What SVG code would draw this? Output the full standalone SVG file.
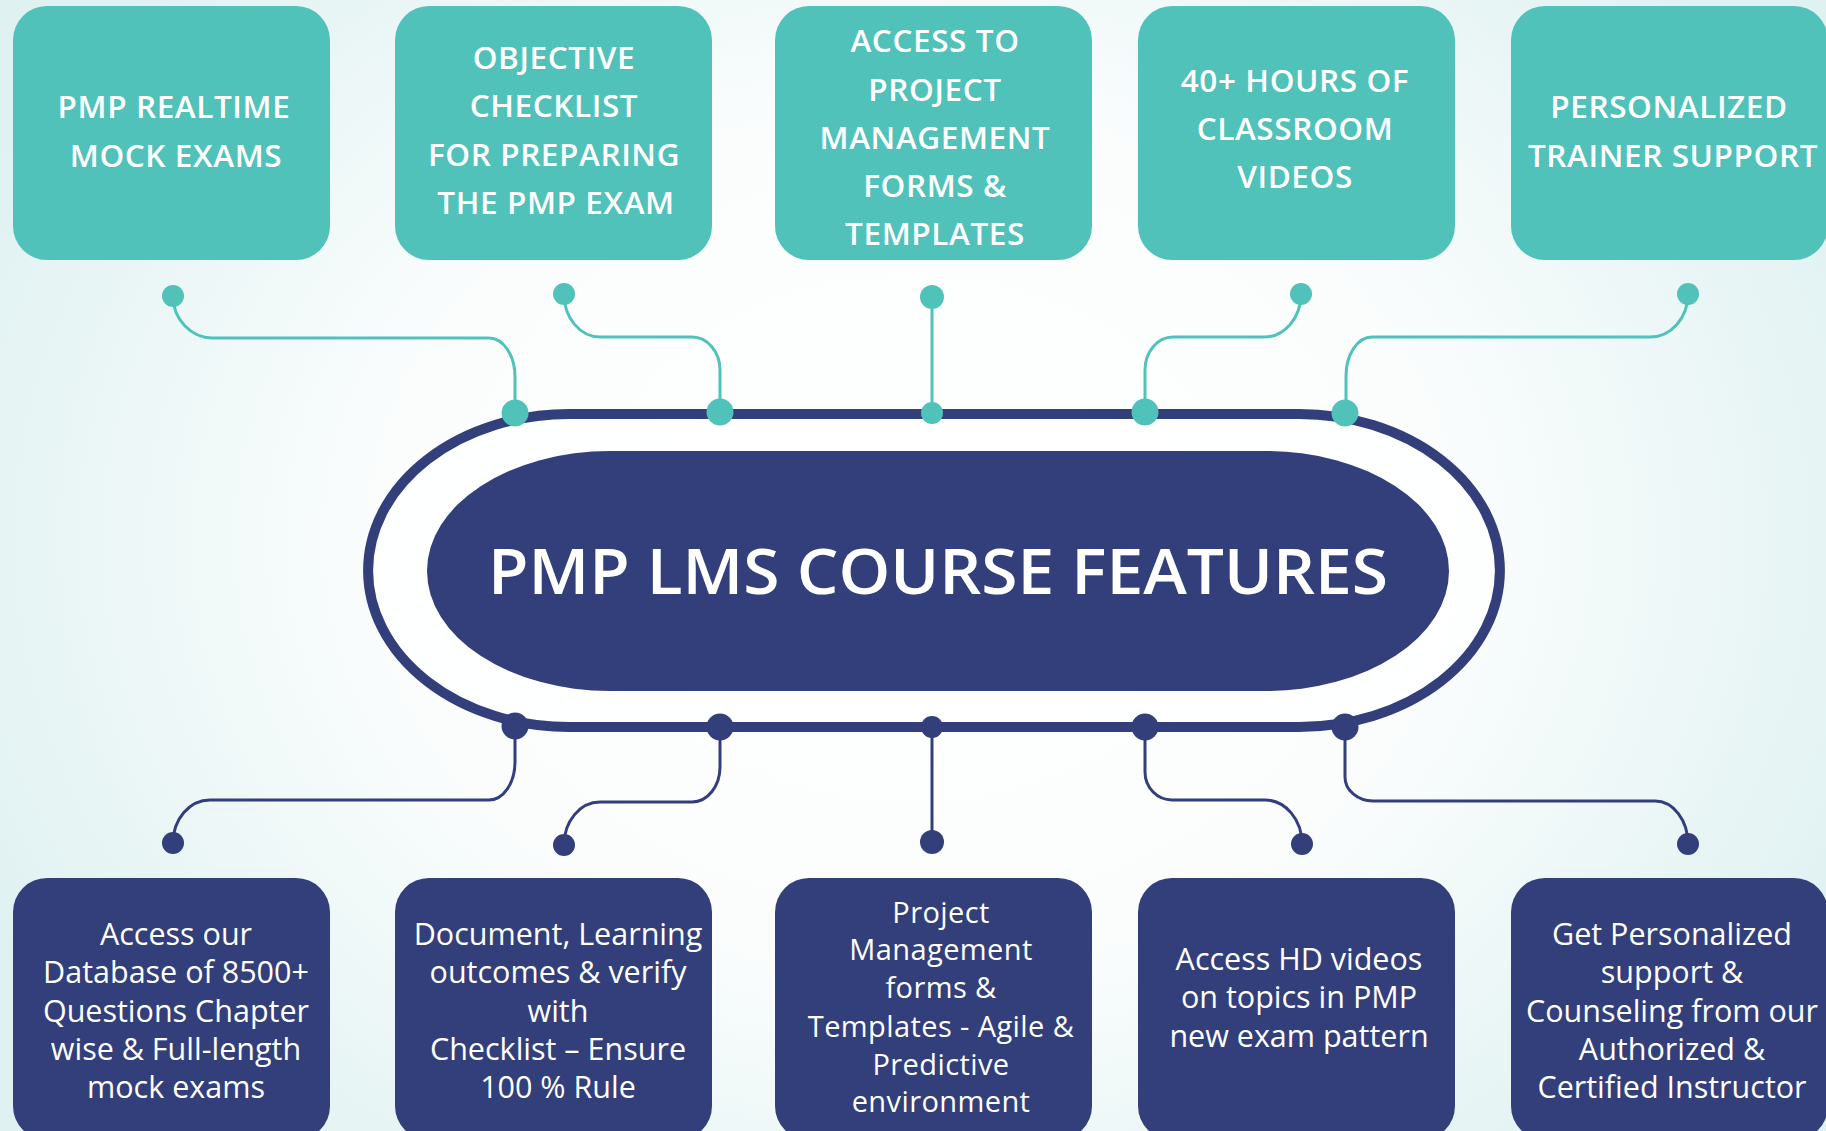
<svg xmlns="http://www.w3.org/2000/svg" width="1826" height="1131" viewBox="0 0 1826 1131">
<defs>
<radialGradient id="bg" gradientUnits="userSpaceOnUse" cx="913" cy="540" r="1050" gradientTransform="translate(913 540) scale(1 0.8) translate(-913 -540)">
<stop offset="0" stop-color="#ffffff"/>
<stop offset="0.5" stop-color="#fbfdfd"/>
<stop offset="1" stop-color="#dff1f1"/>
</radialGradient>
<style>
.tbox{fill:#50C2BA}
.bbox{fill:#333F7A}
.tt{font-family:"Open Sans","Liberation Sans",sans-serif;font-weight:600;font-size:31.5px;letter-spacing:0.6px;fill:#ffffff;text-anchor:middle}
.bt{font-family:"Open Sans","Liberation Sans",sans-serif;font-weight:400;font-size:30.5px;fill:#ffffff;text-anchor:middle}
.bt3{font-size:29px;letter-spacing:0.4px}
.tc{fill:none;stroke:#50C2BA;stroke-width:3}
.bc{fill:none;stroke:#333F7A;stroke-width:3}
.td{fill:#50C2BA}
.bd{fill:#333F7A}
</style>
</defs>
<rect x="0" y="0" width="1826" height="1131" fill="url(#bg)"/>

<g id="center">
<path d="M569,414 H1299 A201,156.5 0 0 1 1299,727 H569 A201,156.5 0 0 1 569,414 Z" fill="#ffffff" fill-opacity="0.7" stroke="#333F7A" stroke-width="10"/>
<path d="M610,451 H1266 A183,120 0 0 1 1266,691 H610 A183,120 0 0 1 610,451 Z" fill="#333F7A"/>
<text x="938" y="594" font-family="'Open Sans','Liberation Sans',sans-serif" font-weight="600" font-size="63" fill="#ffffff" text-anchor="middle" textLength="900" lengthAdjust="spacingAndGlyphs">PMP LMS COURSE FEATURES</text>
</g>

<g id="connectors">
<path class="tc" d="M173,296 A40,42 0 0 0 213,338 H489 A26,39 0 0 1 515,377 V413"/>
<path class="tc" d="M564,294 A36,43 0 0 0 600,337 H692 A28,33 0 0 1 720,370 V412"/>
<path class="tc" d="M932,297 V413"/>
<path class="tc" d="M1301,294 A37,43 0 0 1 1264,337 H1173 A28,33 0 0 0 1145,370 V412"/>
<path class="tc" d="M1688,294 A38,43 0 0 1 1650,337 H1372 A26,39 0 0 0 1346,376 V413"/>
<path class="bc" d="M515,726 V762 A26,38 0 0 1 489,800 H210 A37,43 0 0 0 173,843"/>
<path class="bc" d="M720,727 V767 A28,35 0 0 1 692,802 H600 A36,43 0 0 0 564,845"/>
<path class="bc" d="M932,727 V842"/>
<path class="bc" d="M1145,727 V772 A27,28 0 0 0 1172,800 H1265 A37,44 0 0 1 1302,844"/>
<path class="bc" d="M1345,727 V777 A28,24 0 0 0 1373,801 H1655 A33,43 0 0 1 1688,844"/>
<circle class="td" cx="173" cy="296" r="11"/>
<circle class="td" cx="564" cy="294" r="11"/>
<circle class="td" cx="932" cy="297" r="12"/>
<circle class="td" cx="1301" cy="294" r="11"/>
<circle class="td" cx="1688" cy="294" r="11"/>
<circle class="td" cx="515" cy="413" r="13.5"/>
<circle class="td" cx="720" cy="412" r="13.5"/>
<circle class="td" cx="932" cy="413" r="11"/>
<circle class="td" cx="1145" cy="412" r="13.5"/>
<circle class="td" cx="1345" cy="413" r="13.5"/>
<circle class="bd" cx="515" cy="726" r="13.5"/>
<circle class="bd" cx="720" cy="727" r="13.5"/>
<circle class="bd" cx="932" cy="727" r="11"/>
<circle class="bd" cx="1145" cy="727" r="13.5"/>
<circle class="bd" cx="1345" cy="727" r="13.5"/>
<circle class="bd" cx="173" cy="843" r="11"/>
<circle class="bd" cx="564" cy="845" r="11"/>
<circle class="bd" cx="932" cy="842" r="12"/>
<circle class="bd" cx="1302" cy="844" r="11"/>
<circle class="bd" cx="1688" cy="844" r="11"/>
</g>

<g id="top1">
<rect class="tbox" x="13" y="6" width="317" height="254" rx="34"/>
<text class="tt" x="174" y="118">PMP REALTIME</text>
<text class="tt" x="176" y="167">MOCK EXAMS</text>
</g>
<g id="top2">
<rect class="tbox" x="395" y="6" width="317" height="254" rx="34"/>
<text class="tt" x="554" y="69">OBJECTIVE</text>
<text class="tt" x="554" y="117">CHECKLIST</text>
<text class="tt" x="554" y="166">FOR PREPARING</text>
<text class="tt" x="556" y="214">THE PMP EXAM</text>
</g>
<g id="top3">
<rect class="tbox" x="775" y="6" width="317" height="254" rx="34"/>
<text class="tt" x="935" y="52">ACCESS TO</text>
<text class="tt" x="935" y="101">PROJECT</text>
<text class="tt" x="935" y="149">MANAGEMENT</text>
<text class="tt" x="935" y="197">FORMS &amp;</text>
<text class="tt" x="935" y="245">TEMPLATES</text>
</g>
<g id="top4">
<rect class="tbox" x="1138" y="6" width="317" height="254" rx="34"/>
<text class="tt" x="1295" y="92">40+ HOURS OF</text>
<text class="tt" x="1295" y="140">CLASSROOM</text>
<text class="tt" x="1295" y="188">VIDEOS</text>
</g>
<g id="top5">
<rect class="tbox" x="1511" y="6" width="317" height="254" rx="34"/>
<text class="tt" x="1669" y="118">PERSONALIZED</text>
<text class="tt" x="1673" y="167">TRAINER SUPPORT</text>
</g>

<g id="bottom1">
<rect class="bbox" x="13" y="878" width="317" height="262" rx="34"/>
<text class="bt" x="176" y="945">Access our</text>
<text class="bt" x="176" y="983">Database of 8500+</text>
<text class="bt" x="176" y="1022">Questions Chapter</text>
<text class="bt" x="176" y="1060">wise &amp; Full-length</text>
<text class="bt" x="176" y="1098">mock exams</text>
</g>
<g id="bottom2">
<rect class="bbox" x="395" y="878" width="317" height="262" rx="34"/>
<text class="bt" x="558" y="945">Document, Learning</text>
<text class="bt" x="558" y="983">outcomes &amp; verify</text>
<text class="bt" x="558" y="1022">with</text>
<text class="bt" x="558" y="1060">Checklist – Ensure</text>
<text class="bt" x="558" y="1098">100 % Rule</text>
</g>
<g id="bottom3">
<rect class="bbox" x="775" y="878" width="317" height="262" rx="34"/>
<text class="bt bt3" x="941" y="923">Project</text>
<text class="bt bt3" x="941" y="960">Management</text>
<text class="bt bt3" x="941" y="998">forms &amp;</text>
<text class="bt bt3" x="941" y="1037">Templates - Agile &amp;</text>
<text class="bt bt3" x="941" y="1075">Predictive</text>
<text class="bt bt3" x="941" y="1112">environment</text>
</g>
<g id="bottom4">
<rect class="bbox" x="1138" y="878" width="317" height="262" rx="34"/>
<text class="bt" x="1299" y="970">Access HD videos</text>
<text class="bt" x="1299" y="1008">on topics in PMP</text>
<text class="bt" x="1299" y="1047">new exam pattern</text>
</g>
<g id="bottom5">
<rect class="bbox" x="1511" y="878" width="317" height="262" rx="34"/>
<text class="bt" x="1672" y="945">Get Personalized</text>
<text class="bt" x="1672" y="983">support &amp;</text>
<text class="bt" x="1672" y="1022">Counseling from our</text>
<text class="bt" x="1672" y="1060">Authorized &amp;</text>
<text class="bt" x="1672" y="1098">Certified Instructor</text>
</g>
</svg>
